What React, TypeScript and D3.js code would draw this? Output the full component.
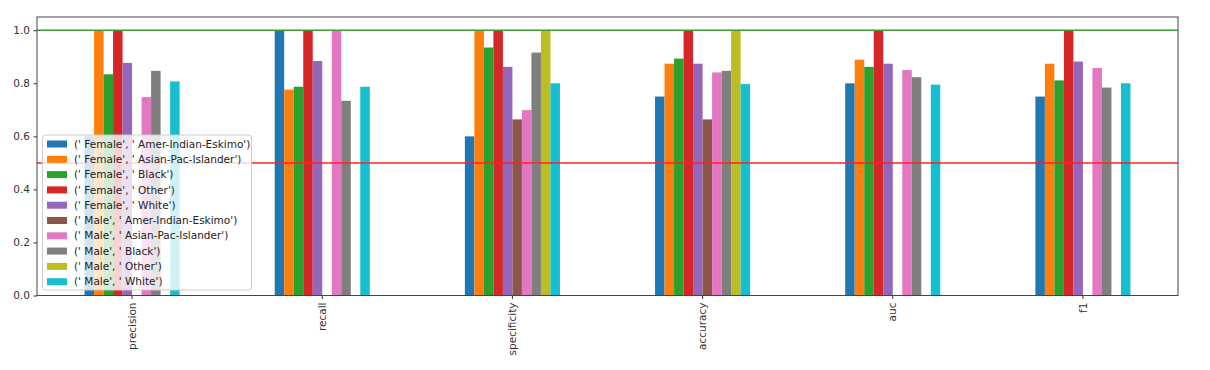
import React, { useEffect, useRef } from 'react';
import * as d3 from 'd3';

const metrics = ['precision', 'recall', 'specificity', 'accuracy', 'auc', 'f1'];

const seriesNames = [
  "(' Female', ' Amer-Indian-Eskimo')",
  "(' Female', ' Asian-Pac-Islander')",
  "(' Female', ' Black')",
  "(' Female', ' Other')",
  "(' Female', ' White')",
  "(' Male', ' Amer-Indian-Eskimo')",
  "(' Male', ' Asian-Pac-Islander')",
  "(' Male', ' Black')",
  "(' Male', ' Other')",
  "(' Male', ' White')",
];

const colors = ['#1f77b4', '#ff7f0e', '#2ca02c', '#d62728', '#9467bd',
  '#8c564b', '#e377c2', '#7f7f7f', '#bcbd22', '#17becf'];

// one array per series, values in metric order; 0 = missing bar
const femaleAmerIndian = [0.6, 1.0, 0.6, 0.75, 0.8, 0.75];
const femaleAsianPac = [1.0, 0.776, 1.0, 0.874, 0.889, 0.874];
const femaleBlack = [0.834, 0.787, 0.935, 0.893, 0.862, 0.811];
const femaleOther = [1.0, 1.0, 1.0, 1.0, 1.0, 1.0];
const femaleWhite = [0.877, 0.884, 0.862, 0.874, 0.874, 0.882];
const maleAmerIndian = [0, 0, 0.664, 0.664, 0, 0];
const maleAsianPac = [0.748, 1.0, 0.699, 0.841, 0.85, 0.858];
const maleBlack = [0.847, 0.734, 0.916, 0.847, 0.823, 0.784];
const maleOther = [0, 0, 1.0, 1.0, 0, 0];
const maleWhite = [0.807, 0.787, 0.8, 0.797, 0.795, 0.8];

const seriesValues = [femaleAmerIndian, femaleAsianPac, femaleBlack, femaleOther, femaleWhite,
  maleAmerIndian, maleAsianPac, maleBlack, maleOther, maleWhite];

const yTicks = [0.0, 0.2, 0.4, 0.6, 0.8, 1.0];

export default function App() {
  const ref = useRef<SVGSVGElement>(null);

  useEffect(() => {
    if (!ref.current) return;
    const svg = d3.select(ref.current);
    svg.selectAll('*').remove();

    const left = 37, right = 1178, top = 17, bottom = 295.5;
    const font = "'DejaVu Sans', sans-serif";
    const fontSize = '10.5px';

    const x = d3.scaleBand<string>()
      .domain(metrics)
      .range([left, right])
      .paddingInner(0.5)
      .paddingOuter(0.25);

    const xs = d3.scaleBand<number>()
      .domain(d3.range(seriesNames.length))
      .range([0, x.bandwidth()]);

    const y = d3.scaleLinear().domain([0, 1.05]).range([bottom, top]);

    const g = svg.append('g');

    seriesValues.forEach((vals, si) => {
      g.append('g')
        .selectAll('rect')
        .data(vals)
        .join('rect')
        .attr('x', (d, i) => x(metrics[i])! + xs(si)!)
        .attr('width', xs.bandwidth())
        .attr('y', d => y(d))
        .attr('height', d => y(0) - y(d))
        .attr('fill', colors[si]);
    });

    // reference lines
    g.append('line')
      .attr('x1', left).attr('x2', right)
      .attr('y1', y(1)).attr('y2', y(1))
      .attr('stroke', '#3a9d3a').attr('stroke-width', 1.5);
    g.append('line')
      .attr('x1', left).attr('x2', right)
      .attr('y1', y(0.5)).attr('y2', y(0.5))
      .attr('stroke', '#f22').attr('stroke-width', 1.5);

    // y axis
    g.append('g')
      .attr('transform', `translate(${left},0)`)
      .call(d3.axisLeft(y).tickValues(yTicks).tickFormat(d3.format('.1f')).tickSize(3.5).tickPadding(3.5))
      .call(a => a.select('.domain').remove())
      .call(a => a.selectAll('.tick line').attr('stroke', '#333'))
      .call(a => a.selectAll('text')
        .attr('fill', '#333')
        .attr('font-size', fontSize)
        .attr('font-family', font));

    // x axis
    g.append('g')
      .attr('transform', `translate(0,${bottom})`)
      .call(d3.axisBottom(x).tickSize(3.5).tickPadding(3.5))
      .call(a => a.select('.domain').remove())
      .call(a => a.selectAll('.tick line').attr('stroke', '#333'))
      .call(a => a.selectAll('text')
        .attr('fill', '#333')
        .attr('font-size', fontSize)
        .attr('font-family', font)
        .attr('transform', 'rotate(-90)')
        .attr('text-anchor', 'end')
        .attr('x', -7)
        .attr('y', 0)
        .attr('dy', '0.35em'));

    // frame
    g.append('rect')
      .attr('x', left).attr('y', top)
      .attr('width', right - left).attr('height', bottom - top)
      .attr('fill', 'none').attr('stroke', '#444').attr('stroke-width', 1);

    // legend
    const lx = 42.5, ly = 135, rowH = 15.3;
    const lg = g.append('g');
    lg.append('rect')
      .attr('x', lx).attr('y', ly)
      .attr('width', 209).attr('height', 155)
      .attr('rx', 3)
      .attr('fill', 'white').attr('fill-opacity', 0.8)
      .attr('stroke', '#ccc').attr('stroke-width', 1);
    seriesNames.forEach((name, i) => {
      const cy = ly + 9 + i * rowH;
      lg.append('rect')
        .attr('x', lx + 4.5).attr('y', cy - 3.5)
        .attr('width', 20).attr('height', 7)
        .attr('fill', colors[i]);
      lg.append('text')
        .attr('x', lx + 31.5).attr('y', cy)
        .attr('dy', '0.35em')
        .attr('font-size', fontSize)
        .attr('font-family', font)
        .attr('fill', '#222')
        .text(name);
    });
  }, []);

  return (
    <svg ref={ref} width={1210} height={370}
      style={{ position: 'absolute', left: 0, top: 0, background: 'white' }} />
  );
}
